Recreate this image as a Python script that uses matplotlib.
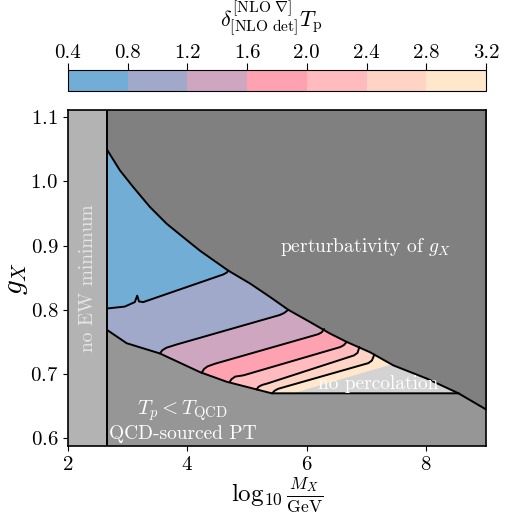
import numpy as np
import matplotlib
matplotlib.use("Agg")
import matplotlib.pyplot as plt
from matplotlib.colors import ListedColormap, BoundaryNorm
from matplotlib.cm import ScalarMappable

plt.rcParams['mathtext.fontset'] = 'cm'
plt.rcParams['font.family'] = 'serif'
plt.rcParams['font.serif'] = ['cmr10', 'DejaVu Serif']
plt.rcParams['axes.formatter.use_mathtext'] = True

# contour levels and band colours
levels = [0.4, 0.8, 1.2, 1.6, 2.0, 2.4, 2.8, 3.2]
band_colors = ['#72add6', '#a1a9cb', '#cfa6c0', '#fea2b2', '#ffbbbd', '#ffd4c5', '#ffe7cc']

# boundaries (log10 M/GeV, g_X)
x_ew = 2.65
upper_x = [2.65, 2.871, 3.094, 3.374, 3.653, 3.931, 4.211, 4.685, 5.049, 5.384,
           5.690, 6.054, 6.389, 6.668, 7.058, 7.449, 8.008, 8.54, 9.0]
upper_y = [1.050, 1.017, 0.991, 0.960, 0.934, 0.913, 0.892, 0.861, 0.841, 0.820,
           0.800, 0.781, 0.763, 0.750, 0.734, 0.7135, 0.693, 0.670, 0.645]
lower_x = [2.65, 2.983, 3.541, 4.211, 4.658, 5.161, 5.412, 8.54]
lower_y = [0.769, 0.748, 0.732, 0.703, 0.688, 0.676, 0.670, 0.670]
noperc_start_x = [5.77, 7.42]
noperc_start_y = [0.670, 0.715]

# contour lines between bands (x, y)
c08_x = [2.65, 2.95, 3.12, 3.16, 3.19, 3.26, 4.60, 4.66, 4.685]
c08_y = [0.802, 0.805, 0.812, 0.822, 0.813, 0.812, 0.855, 0.858, 0.861]
c12_x = [3.541, 3.58, 3.65, 3.82, 5.55, 5.62, 5.69]
c12_y = [0.732, 0.737, 0.741, 0.746, 0.792, 0.795, 0.800]
c16_x = [4.24, 4.28, 4.34, 4.46, 6.19, 6.25, 6.29]
c16_y = [0.702, 0.708, 0.712, 0.716, 0.762, 0.765, 0.770]
c20_x = [4.71, 4.74, 4.80, 4.94, 6.56, 6.62, 6.668]
c20_y = [0.688, 0.692, 0.696, 0.698, 0.742, 0.745, 0.750]
c24_x = [5.161, 5.19, 5.25, 5.33, 6.79, 6.85, 6.88]
c24_y = [0.676, 0.680, 0.683, 0.685, 0.729, 0.733, 0.742]
c28_x = [5.42, 5.46, 5.52, 7.03, 7.09, 7.13]
c28_y = [0.670, 0.674, 0.677, 0.717, 0.721, 0.730]

contours = [(c08_x, c08_y), (c12_x, c12_y), (c16_x, c16_y),
            (c20_x, c20_y), (c24_x, c24_y), (c28_x, c28_y)]

fig = plt.figure(figsize=(5.07, 5.16), dpi=100)
ax = fig.add_axes([0.134, 0.1357, 0.8245, 0.651])
ax.set_xlim(2, 9)
ax.set_ylim(0.588, 1.111)

# background: QCD-sourced region
ax.set_facecolor('#969696')

# perturbativity region above the upper curve
ax.fill_between(upper_x, upper_y, 1.2, color='#808080', zorder=1)

# coloured region, also used as clip path
n_up = upper_x.index(8.54)
reg_x = upper_x[:n_up + 1] + lower_x[::-1][1:]
reg_y = upper_y[:n_up + 1] + lower_y[::-1][1:]
clip = plt.Polygon(np.column_stack([reg_x, reg_y]), closed=True,
                   transform=ax.transData, facecolor='none', edgecolor='none')
ax.add_patch(clip)

ax.fill(reg_x, reg_y, color=band_colors[-1], zorder=2, lw=0)
for i in range(len(contours) - 1, -1, -1):
    cx, cy = contours[i]
    px = list(cx) + [cx[-1], 2.0, 2.0]
    py = list(cy) + [1.3, 1.3, cy[0]]
    p = ax.fill(px, py, color=band_colors[i], zorder=3, lw=0)[0]
    p.set_clip_path(clip)
    ax.plot(cx, cy, color='k', lw=1.4, zorder=5, solid_capstyle='round',
            solid_joinstyle='round')

# no percolation region
np_x = noperc_start_x + [x for x in upper_x if 7.42 < x <= 8.54]
np_y = noperc_start_y + [y for x, y in zip(upper_x, upper_y) if 7.42 < x <= 8.54]
ax.fill(np_x, np_y, color='#d3d3d3', zorder=4, lw=0)

# boundary lines
ax.plot(upper_x, upper_y, color='k', lw=1.4, zorder=6, solid_joinstyle='round')
ax.plot(lower_x, lower_y, color='k', lw=1.4, zorder=6, solid_joinstyle='round')

# no EW minimum strip
ax.axvspan(2, x_ew, color='#b3b3b3', zorder=7, lw=0)
ax.axvline(x_ew, color='k', lw=1.4, zorder=8)

ax.text(6.98, 0.898, r'perturbativity of $g_X$', color='white', fontsize=14,
        ha='center', va='center', zorder=9)
ax.text(2.34, 0.85, 'no EW minimum', color='#e6e6e6', fontsize=14, rotation=90,
        ha='center', va='center', zorder=9)
ax.text(7.2, 0.684, 'no percolation', color='white', fontsize=14,
        ha='center', va='center', zorder=9)
ax.text(3.92, 0.643, r'$T_p < T_\mathrm{QCD}$', color='white', fontsize=15,
        ha='center', va='center', zorder=9)
ax.text(3.92, 0.607, 'QCD-sourced PT', color='white', fontsize=14,
        ha='center', va='center', zorder=9)

ax.set_xticks([2, 4, 6, 8])
ax.set_yticks([0.6, 0.7, 0.8, 0.9, 1.0, 1.1])
ax.tick_params(labelsize=15)
ax.set_xlabel(r'$\log_{10}\frac{M_X}{\mathrm{GeV}}$', fontsize=18, labelpad=1)
ax.set_ylabel(r'$g_X$', fontsize=21, labelpad=0)
for s in ax.spines.values():
    s.set_zorder(10)
    s.set_linewidth(1.2)

# colorbar
cax = fig.add_axes([0.134, 0.8236, 0.8245, 0.0407])
cmap = ListedColormap(band_colors)
norm = BoundaryNorm(levels, cmap.N)
cb = fig.colorbar(ScalarMappable(norm=norm, cmap=cmap), cax=cax,
                  orientation='horizontal', ticks=levels)
cb.ax.xaxis.set_ticks_position('top')
cb.ax.set_xticklabels(['0.4', '0.8', '1.2', '1.6', '2.0', '2.4', '2.8', '3.2'])
cb.ax.tick_params(labelsize=15, length=5, pad=0.5)
fig.text(0.535, 0.926,
         r'$\delta^{[\mathrm{NLO}\ \nabla]}_{[\mathrm{NLO\ det}]}T_\mathrm{p}$',
         fontsize=16, ha='center', va='bottom')

fig.savefig('out.png', dpi=100)
